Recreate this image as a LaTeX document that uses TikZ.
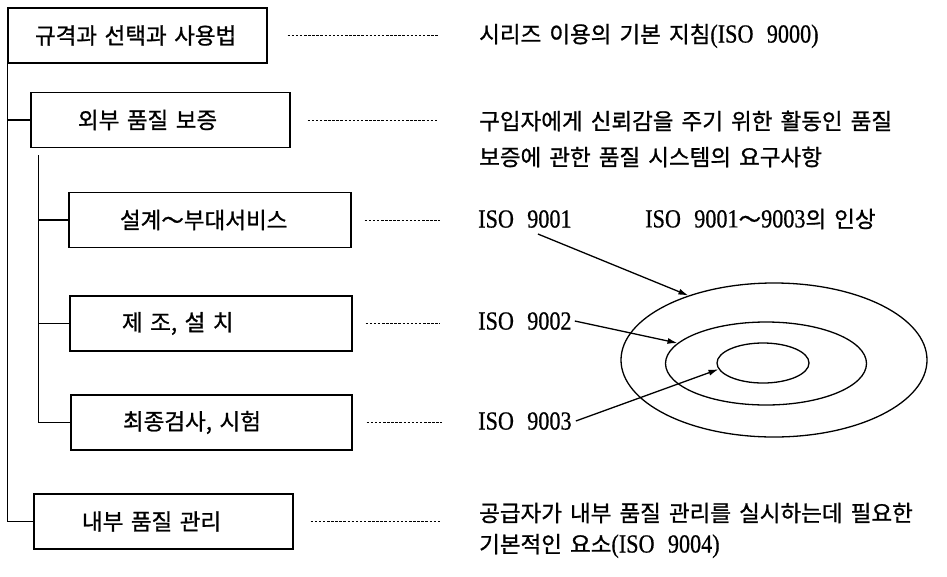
\documentclass[tikz,border=0pt]{standalone}
\usepackage{fontspec}
\setmainfont{Noto Sans CJK KR}[WordSpace=1.6, UprightFeatures={FakeBold=1.0}]
\newfontfamily\lat{Liberation Serif}[Scale=1.16, FakeStretch=0.85, WordSpace=2.4, FakeBold=0.6]
\usetikzlibrary{shapes.geometric,arrows.meta}
\tikzset{
  every node/.style={font=\fontsize{22.5pt}{26pt}\selectfont},
  box/.style={draw, line width=1.3pt, minimum height=55pt, align=left, inner ysep=0pt},
  txt/.style={anchor=west, inner sep=0pt},
  tree/.style={line width=1.4pt},
  dotline/.style={line width=0.8pt, dash pattern=on 2.5pt off 1.6pt},
  ring/.style={draw, ellipse, line width=1.3pt, inner sep=0pt},
  arr/.style={line width=1.3pt, -{Latex[length=10pt,width=6pt]}}
}
\begin{document}
\begin{tikzpicture}[x=1pt,y=-1pt]
\useasboundingbox (0,0) rectangle (947,576);
% boxes
\node[box, inner xsep=27pt, text width=205pt] (b1) at (137.5,35.5) {\mbox{규격과 선택과 사용법}};
\node[box, inner xsep=47pt, text width=165pt] (b2) at (160.5,120) {\mbox{외부 품질 보증}};
\node[box, inner xsep=51pt, text width=180pt] (b3) at (210,220) {\mbox{설계～부대서비스}};
\node[box, inner xsep=52pt, text width=178pt] (b4) at (211,323.5) {\mbox{제 조, 설 치}};
\node[box, inner xsep=52pt, text width=177pt] (b5) at (211.5,422.5) {\mbox{최종검사, 시험}};
\node[box, inner xsep=48pt, text width=163pt] (b6) at (163.5,521.5) {\mbox{내부 품질 관리}};
% tree
\draw[tree] (b1.south west) |- (b6.west);
\draw[tree] (b1.south west |- b2.west) -- (b2.west);
\coordinate (v2) at ([xshift=8pt,yshift=-7pt]b2.south west);
\draw[tree] (v2) |- (b5.west);
\draw[tree] (v2 |- b3.west) -- (b3.west);
\draw[tree] (v2 |- b4.west) -- (b4.west);
% right texts
\node[txt] (t1) at (479,36) {시리즈 이용의 기본 지침{\lat (ISO 9000)}};
\node[txt] (t2a) at (479,121) {구입자에게 신뢰감을 주기 위한 활동인 품질};
\node[txt] (t2b) at (479,157) {보증에 관한 품질 시스템의 요구사항};
\node[txt] (t3) at (478,219) {\lat ISO 9001};
\node[txt] (t3b) at (645,219) {{\lat ISO 9001}～{\lat 9003}의 인상};
\node[txt] (t4) at (478,321) {\lat ISO 9002};
\node[txt] (t5) at (478,421) {\lat ISO 9003};
\node[txt] (t6a) at (479,513) {공급자가 내부 품질 관리를 실시하는데 필요한};
\node[txt] (t6b) at (479,546) {기본적인 요소{\lat (ISO 9004)}};
% dotted leaders
\draw[dotline, shorten <=20pt, shorten >=41pt] (b1.east) -- (b1.east -| t1.west);
\draw[dotline, shorten <=17pt, shorten >=41pt] (b2.east) -- (b2.east -| t2a.west);
\draw[dotline, shorten <=13pt, shorten >=38pt] (b3.east) -- (b3.east -| t3.west);
\draw[dotline, shorten <=13pt, shorten >=38pt] (b4.east) -- (b4.east -| t4.west);
\draw[dotline, shorten <=14pt, shorten >=36pt] (b5.east) -- (b5.east -| t5.west);
\draw[dotline, shorten <=17pt, shorten >=39pt] (b6.east) -- (b6.east -| t6a.west);
% rings
\node[ring, minimum width=306pt, minimum height=154pt] (e1) at (774,360) {};
\node[ring, minimum width=201pt, minimum height=83pt] (e2) at (766,363.5) {};
\node[ring, minimum width=92pt, minimum height=40pt] (e3) at (763,363) {};
% arrows
\draw[arr] ([xshift=13pt,yshift=-6pt]t3.south) -- (e1.143);
\draw[arr] ([xshift=3pt]t4.east) -- (e2.167);
\draw[arr] ([xshift=4pt]t5.east) -- (e3.188);
\end{tikzpicture}
\end{document}
